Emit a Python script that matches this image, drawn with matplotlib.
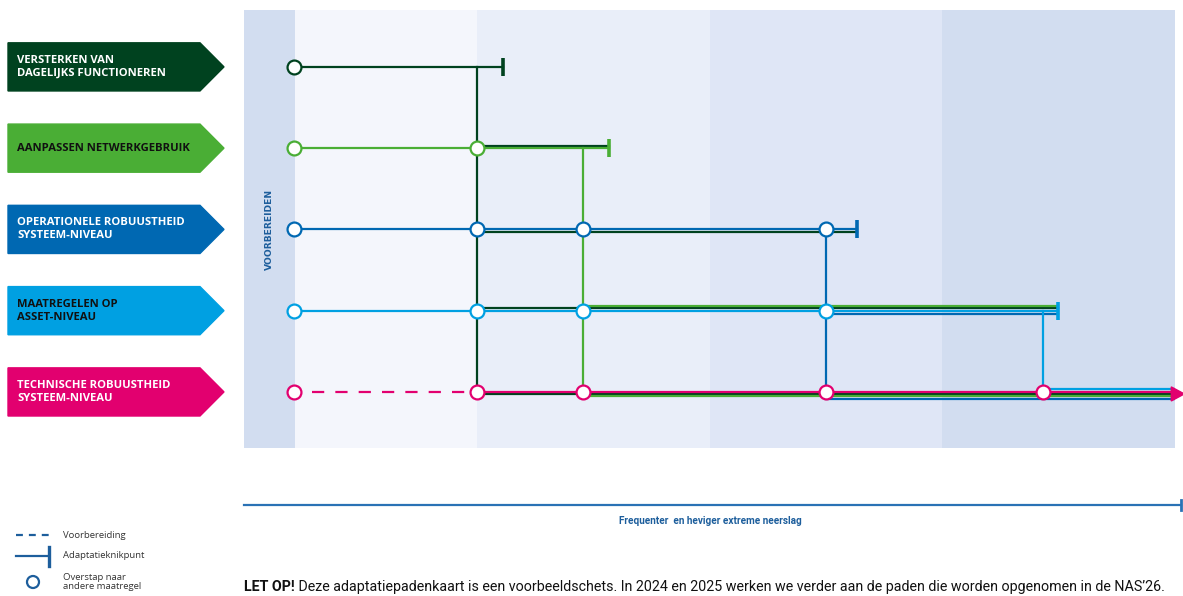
import matplotlib.pyplot as plt
from matplotlib.patches import Polygon, Circle
from matplotlib import transforms

# measures (rows, top to bottom)
measures = ['VERSTERKEN VAN\nDAGELIJKS FUNCTIONEREN',
            'AANPASSEN NETWERKGEBRUIK',
            'OPERATIONELE ROBUUSTHEID\nSYSTEEM-NIVEAU',
            'MAATREGELEN OP\nASSET-NIVEAU',
            'TECHNISCHE ROBUUSTHEID\nSYSTEEM-NIVEAU']
colors = ['#00421f', '#4aae35', '#0068b2', '#00a0e2', '#e2006f']
text_colors = ['white', '#111111', 'white', '#111111', 'white']

# x axis: 0..100 along "Frequenter en heviger extreme neerslag"
start_x = 5.4
switch_x = [25.0, 36.4, 62.5, 85.8]          # switch point where measure i moves on
tipping_x = [27.8, 39.2, 65.8, 87.4, 100.0]  # adaptation tipping point per row (last = open end)
prep_end_x = 25.0                              # end of preparation (row 4, dashed)

# which rows each measure continues on after its switch point, with pixel offset in the bundle
follow_rows = {0: [1, 2, 3, 4], 1: [3, 4], 2: [3, 4], 3: [4]}
follow_offsets = {0: [-2.5, 2.5, -2.5, 2.5], 1: [-5, 4.5], 2: [3, 7], 3: [-3]}

# transfer circles per row (indices into switch_x)
row_circles = {0: [], 1: [0], 2: [0, 1, 2], 3: [0, 1, 2], 4: [0, 1, 2, 3]}

band_edges = [0, 5.5, 25, 50, 75, 100]
band_colors = ['#d2ddf0', '#f4f6fc', '#e9eef9', '#dfe6f6', '#d2ddf0']

W, H = 1183, 596
fig = plt.figure(figsize=(W / 100, H / 100), dpi=100)
ax = fig.add_axes([244 / W, 1 - 448 / H, 931 / W, 438 / H])
ax.set_xlim(0, 100)
ax.set_ylim(4.69, -0.70)
ax.axis('off')
px = 1 / 81.0  # one pixel in y units
lw = 1.6

for i in range(len(band_colors)):
    ax.axvspan(band_edges[i], band_edges[i + 1], color=band_colors[i], lw=0, zorder=0)

ax.text(2.75, 2.0, 'VOORBEREIDEN', rotation=90, ha='center', va='center',
        fontsize=6.6, fontweight='bold', color='#1d5e9c', family='DejaVu Sans')

# own lines per row
for r, c in enumerate(colors):
    if r == 4:
        ax.plot([start_x + 1.9, prep_end_x - 1.3], [r, r], color=c, lw=lw,
                dashes=(5.5, 5), zorder=3)
        ax.plot([prep_end_x, tipping_x[r]], [r, r], color=c, lw=lw, zorder=3.5)
    else:
        ax.plot([start_x, tipping_x[r]], [r, r], color=c, lw=lw, zorder=3.5)

# followed lines + verticals
for i, rows in follow_rows.items():
    x0 = switch_x[i]
    for r, off in zip(rows, follow_offsets[i]):
        ax.plot([x0, tipping_x[r]], [r + off * px, r + off * px], color=colors[i],
                lw=lw, zorder=3)
    ax.plot([x0, x0], [i, rows[-1]], color=colors[i], lw=lw, zorder=3)

# arrow head at open end of last row
ax.add_patch(Polygon([[99.6, 4 - 5 * px], [101.0, 4 + 2 * px], [99.6, 4 + 9 * px]],
                     closed=True, color=colors[4], clip_on=False, zorder=4))

# tipping point ticks
for r in range(4):
    ax.plot([tipping_x[r]], [r], marker='|', markersize=13, mew=2.6,
            color=colors[r], zorder=5)

# circles
for r, c in enumerate(colors):
    xs = [start_x] + [switch_x[k] for k in row_circles[r]]
    ax.plot(xs, [r] * len(xs), 'o', ms=10, mfc='white', mec=c, mew=1.6, zorder=6)

# labels on the left (arrow tags)
trans = transforms.blended_transform_factory(fig.transFigure, ax.transData)
h = 24 * px
for r, name in enumerate(measures):
    verts = [[8 / W, r - h], [200 / W, r - h], [224 / W, r], [200 / W, r + h], [8 / W, r + h]]
    ax.add_patch(Polygon(verts, closed=True, color=colors[r], transform=trans,
                         clip_on=False, zorder=2))
    ax.text(17 / W, r, name, transform=trans, ha='left', va='center', fontsize=8.1,
            fontweight='bold', color=text_colors[r], family='Open Sans',
            linespacing=1.25, clip_on=False)

# overlay in pixel coordinates for axis arrow, legend and note
lax = fig.add_axes([0, 0, 1, 1])
lax.set_xlim(0, W)
lax.set_ylim(H, 0)
lax.axis('off')
axis_blue = '#2a72b5'
leg_blue = '#1d5e9c'
lax.plot([244, 1181], [505, 505], color=axis_blue, lw=1.6)
lax.plot([1181.5, 1181.5], [500, 510], color=axis_blue, lw=2)
lax.text(710, 521, 'Frequenter  en heviger extreme neerslag', ha='center', va='center',
         fontsize=7.2, fontweight='bold', color='#1d5e9c', family='Roboto')

lax.plot([16, 50], [535, 535], color=leg_blue, lw=1.6, dashes=(3.1, 2.7))
lax.plot([16, 48], [556, 556], color=leg_blue, lw=1.6)
lax.plot([49, 49], [547, 566], color=leg_blue, lw=2.4)
lax.add_patch(Circle((33, 582), 6, fill=False, ec=leg_blue, lw=1.6))
leg_kw = dict(ha='left', va='center', fontsize=6.8, color='#333333', family='Open Sans')
lax.text(63, 535, 'Voorbereiding', **leg_kw)
lax.text(63, 556, 'Adaptatieknikpunt', **leg_kw)
lax.text(63, 582, 'Overstap naar\nandere maatregel', linespacing=1.1, **leg_kw)

note_kw = dict(fontsize=10.25, color='#111111', family='Roboto')
t1 = lax.text(244, 587, 'LET OP!', ha='left', va='center', fontweight='bold', **note_kw)
lax.annotate(' Deze adaptatiepadenkaart is een voorbeeldschets. In 2024 en 2025 werken we '
             'verder aan de paden die worden opgenomen in de NAS\u201926.',
             xy=(1, 0.5), xycoords=t1, ha='left', va='center', **note_kw)

fig.savefig('out.png', dpi=100)
